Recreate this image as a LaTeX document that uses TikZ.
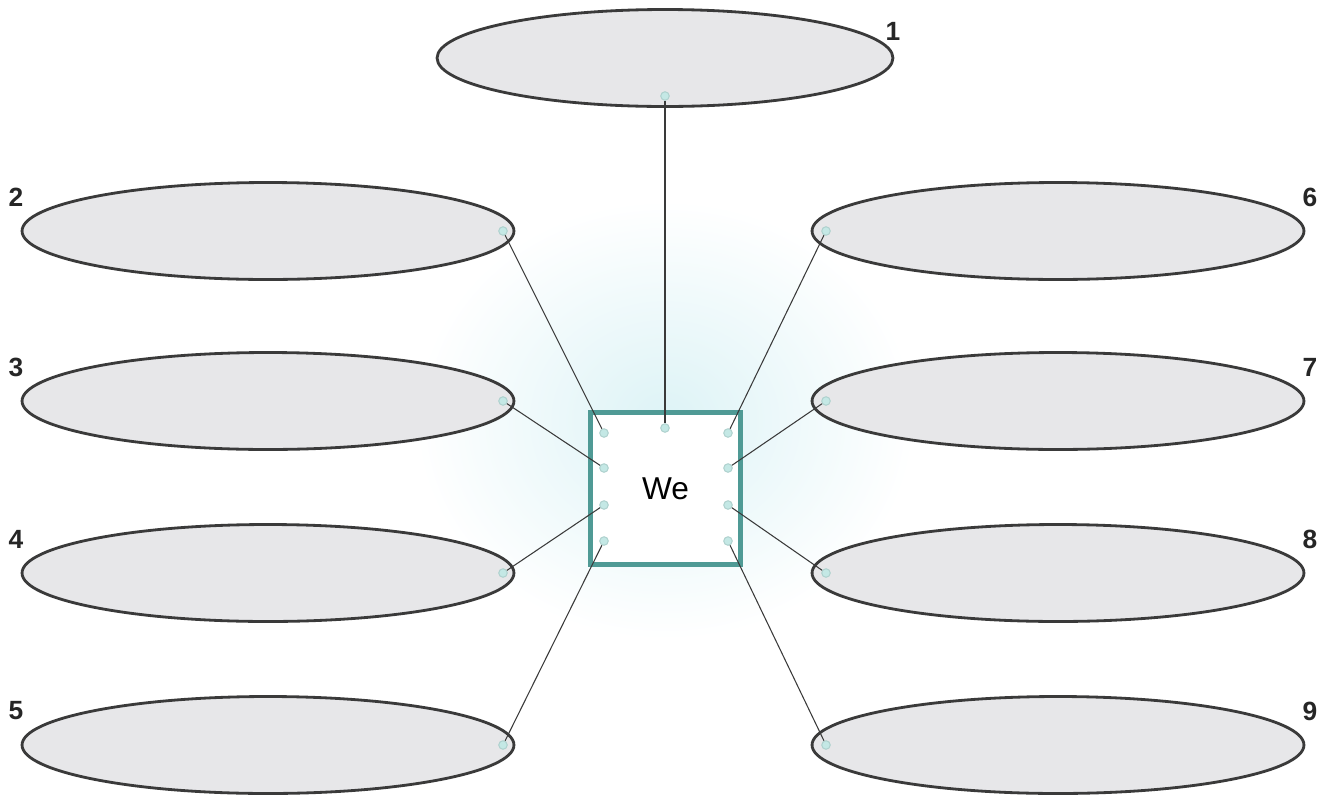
\documentclass[tikz,border=0pt]{standalone}
\usepackage{fontspec}
\setmainfont{Liberation Sans}
\usetikzlibrary{shapes.geometric}
\definecolor{weteal}{HTML}{4F9A95}
\definecolor{wegrey}{HTML}{E7E7E9}
\definecolor{weline}{HTML}{3A3A3A}
\definecolor{wedot}{HTML}{C4E8E5}
\definecolor{weglow}{HTML}{DDF3F6}

\begin{document}
\begin{tikzpicture}[x=0.02cm, y=-0.02cm,
    bubble/.style={ellipse, draw=weline, fill=wegrey, line width=1.6pt,
                   minimum width=9.84cm, minimum height=1.94cm, inner sep=0pt},
    num/.style={font=\fontsize{15}{17}\selectfont\bfseries, text=black!85},
    pin/.style={circle, draw=weteal!45, fill=wedot, line width=0.6pt,
                minimum size=0.17cm, inner sep=0pt},
    link/.style={weline, line width=0.6pt},
  ]
  \useasboundingbox (0,0) rectangle (1333,795);
  \fill[white] (0,0) rectangle (1333,795);
  \shade[inner color=weglow, outer color=white] (665,420) ellipse (250 and 220);

  % top bubble
  \node[bubble, minimum width=9.12cm] (b1) at (665,58) {};
  \node[num] at (893,31) {1};
  \node[pin] (p1) at (665,96) {};

  % left and right columns
  \foreach \n/\m/\y in {2/6/231, 3/7/401, 4/8/573, 5/9/745} {
    \node[bubble] (b\n) at (268,\y) {};
    \node[bubble] (b\m) at (1058,\y) {};
    \node[num] at (16,\y-34) {\n};
    \node[num] at (1310,\y-34) {\m};
    \node[pin] (p\n) at (503,\y) {};
    \node[pin] (p\m) at (826,\y) {};
  }

  % centre box
  \node[draw=weteal, line width=2.4pt, fill=white, minimum width=3.0cm,
        minimum height=3.04cm, font=\fontsize{18}{20}\selectfont] (we) at (665.5,488.5) {We};
  \node[pin] (q1) at (665,428) {};
  \foreach \n/\m/\y in {2/6/433, 3/7/468, 4/8/505, 5/9/541} {
    \node[pin] (q\n) at (604,\y) {};
    \node[pin] (q\m) at (728,\y) {};
  }

  \foreach \n in {1,...,9}
    \draw[link] (p\n) -- (q\n);
\end{tikzpicture}
\end{document}
